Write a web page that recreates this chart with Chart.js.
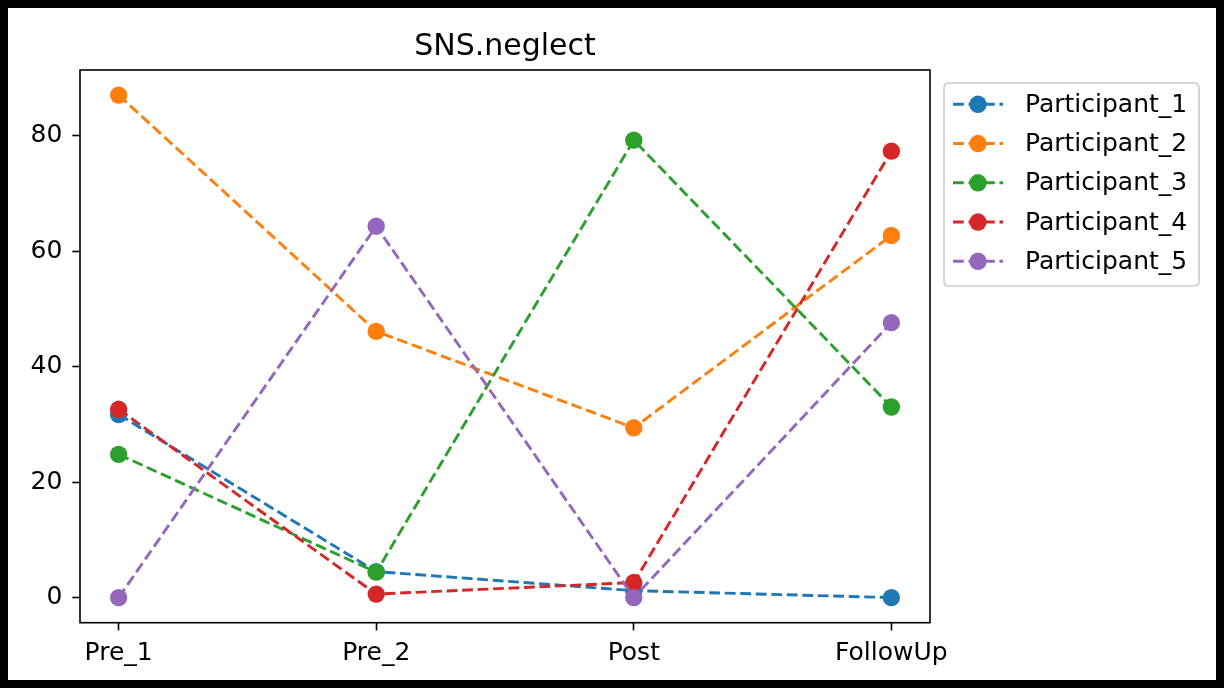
<!DOCTYPE html>
<html>
<head>
<meta charset="utf-8">
<title>SNS.neglect</title>
<script src="https://cdn.jsdelivr.net/npm/chart.js@4.4.1/dist/chart.umd.min.js"></script>
<style>
  html, body { margin: 0; padding: 0; background: #fff; }
  #wrap { width: 1224px; height: 688px; }
</style>
</head>
<body>
<div id="wrap"><canvas id="c" width="1224" height="688"></canvas></div>
<script>
// Measurement phases on the x axis
const categories = ['Pre_1', 'Pre_2', 'Post', 'FollowUp'];

// Scores per participant, one value per phase
const participant1 = [31.7, 4.5, 1.2, 0.0];
const participant2 = [87.0, 46.1, 29.4, 62.7];
const participant3 = [24.8, 4.4, 79.2, 33.0];
const participant4 = [32.6, 0.6, 2.6, 77.3];
const participant5 = [0.0, 64.3, 0.0, 47.6];

const seriesNames = ['Participant_1', 'Participant_2', 'Participant_3', 'Participant_4', 'Participant_5'];
const seriesValues = [participant1, participant2, participant3, participant4, participant5];
const seriesColors = ['#1f77b4', '#ff7f0e', '#2ca02c', '#d62728', '#9467bd'];

const yTicks = [0, 20, 40, 60, 80];
const chartTitle = 'SNS.neglect';

// Axis limits with a 5% margin around the data, the usual plotting default
const allValues = seriesValues.flat();
const dataMin = Math.min(...allValues);
const dataMax = Math.max(...allValues);
const ySpan = dataMax - dataMin;
const yMin = dataMin - 0.05 * ySpan;
const yMax = dataMax + 0.05 * ySpan;
const xSpan = categories.length - 1;
const xMin = -0.05 * xSpan;
const xMax = xSpan + 0.05 * xSpan;

const FONT = "'DejaVu Sans', 'Liberation Sans', sans-serif";
const TICK_SIZE = 25;
const TITLE_SIZE = 30;
const LINE_W = 2.9;
const DASH = [10.8, 4.7];
const POINT_R = 8.7;
const SPINE_W = 1.6;

const datasets = seriesValues.map((vals, i) => ({
  label: seriesNames[i],
  data: vals.map((v, k) => ({ x: k, y: v })),
  borderColor: seriesColors[i],
  backgroundColor: seriesColors[i],
  pointBackgroundColor: seriesColors[i],
  pointBorderColor: seriesColors[i],
  pointBorderWidth: 0,
  pointRadius: POINT_R,
  pointHoverRadius: POINT_R,
  borderWidth: LINE_W,
  borderDash: DASH,
  tension: 0,
  fill: false,
  // later participants are painted above earlier ones
  order: seriesValues.length - i
}));

// Page frame, title, axes box and legend
const decorations = {
  id: 'decorations',
  beforeDraw(chart) {
    const ctx = chart.ctx;
    ctx.save();
    ctx.fillStyle = '#ffffff';
    ctx.fillRect(0, 0, chart.width, chart.height);
    ctx.restore();
  },
  afterDraw(chart) {
    const ctx = chart.ctx;
    const a = chart.chartArea;
    ctx.save();

    // axes box
    ctx.strokeStyle = '#000';
    ctx.lineWidth = SPINE_W;
    ctx.setLineDash([]);
    ctx.strokeRect(a.left, a.top, a.right - a.left, a.bottom - a.top);

    // title
    ctx.fillStyle = '#000';
    ctx.font = TITLE_SIZE + 'px ' + FONT;
    ctx.textAlign = 'center';
    ctx.textBaseline = 'alphabetic';
    ctx.fillText(chartTitle, (a.left + a.right) / 2, 55);

    // legend box
    const lx = 944, ly = 83, lw = 255, lh = 203, r = 5;
    ctx.beginPath();
    ctx.moveTo(lx + r, ly);
    ctx.lineTo(lx + lw - r, ly);
    ctx.quadraticCurveTo(lx + lw, ly, lx + lw, ly + r);
    ctx.lineTo(lx + lw, ly + lh - r);
    ctx.quadraticCurveTo(lx + lw, ly + lh, lx + lw - r, ly + lh);
    ctx.lineTo(lx + r, ly + lh);
    ctx.quadraticCurveTo(lx, ly + lh, lx, ly + lh - r);
    ctx.lineTo(lx, ly + r);
    ctx.quadraticCurveTo(lx, ly, lx + r, ly);
    ctx.closePath();
    ctx.fillStyle = 'rgba(255,255,255,0.8)';
    ctx.fill();
    ctx.strokeStyle = '#cccccc';
    ctx.lineWidth = 1.6;
    ctx.stroke();

    // legend entries
    ctx.font = TICK_SIZE + 'px ' + FONT;
    ctx.textAlign = 'left';
    ctx.textBaseline = 'middle';
    seriesNames.forEach((name, i) => {
      const cy = 104.3 + i * 39.25;
      ctx.strokeStyle = seriesColors[i];
      ctx.lineWidth = LINE_W;
      ctx.setLineDash(DASH);
      ctx.beginPath();
      ctx.moveTo(953, cy);
      ctx.lineTo(1003, cy);
      ctx.stroke();
      ctx.setLineDash([]);
      ctx.fillStyle = seriesColors[i];
      ctx.beginPath();
      ctx.arc(978, cy, POINT_R, 0, Math.PI * 2);
      ctx.fill();
      ctx.fillStyle = '#000';
      ctx.fillText(name, 1025, cy + 1);
    });

    // outer frame
    ctx.fillStyle = '#000';
    const b = 8;
    ctx.fillRect(0, 0, chart.width, b);
    ctx.fillRect(0, chart.height - b, chart.width, b);
    ctx.fillRect(0, 0, b, chart.height);
    ctx.fillRect(chart.width - b, 0, b, chart.height);
    ctx.restore();
  }
};

new Chart(document.getElementById('c'), {
  type: 'line',
  data: { datasets },
  options: {
    responsive: false,
    animation: false,
    devicePixelRatio: 1,
    layout: { padding: { left: 0, top: 70, right: 294, bottom: 0 } },
    plugins: {
      legend: { display: false },
      title: { display: false },
      tooltip: { enabled: false }
    },
    scales: {
      x: {
        type: 'linear',
        min: xMin,
        max: xMax,
        afterBuildTicks(scale) {
          scale.ticks = categories.map((_, k) => ({ value: k }));
        },
        afterFit(scale) { scale.height = 65.3; },
        border: { display: false },
        grid: {
          display: true,
          drawOnChartArea: false,
          drawTicks: true,
          tickLength: 7.7,
          tickWidth: SPINE_W,
          tickColor: '#000'
        },
        ticks: {
          autoSkip: false,
          maxRotation: 0,
          color: '#000',
          padding: 8,
          font: { family: FONT, size: TICK_SIZE },
          callback: (v) => categories[v] ?? ''
        }
      },
      y: {
        type: 'linear',
        min: yMin,
        max: yMax,
        afterBuildTicks(scale) {
          scale.ticks = yTicks.map(v => ({ value: v }));
        },
        afterFit(scale) { scale.width = 80; },
        border: { display: false },
        grid: {
          display: true,
          drawOnChartArea: false,
          drawTicks: true,
          tickLength: 7.7,
          tickWidth: SPINE_W,
          tickColor: '#000'
        },
        ticks: {
          color: '#000',
          padding: 10,
          font: { family: FONT, size: TICK_SIZE },
          callback: (v) => String(v)
        }
      }
    }
  },
  plugins: [decorations]
});
</script>
</body>
</html>
